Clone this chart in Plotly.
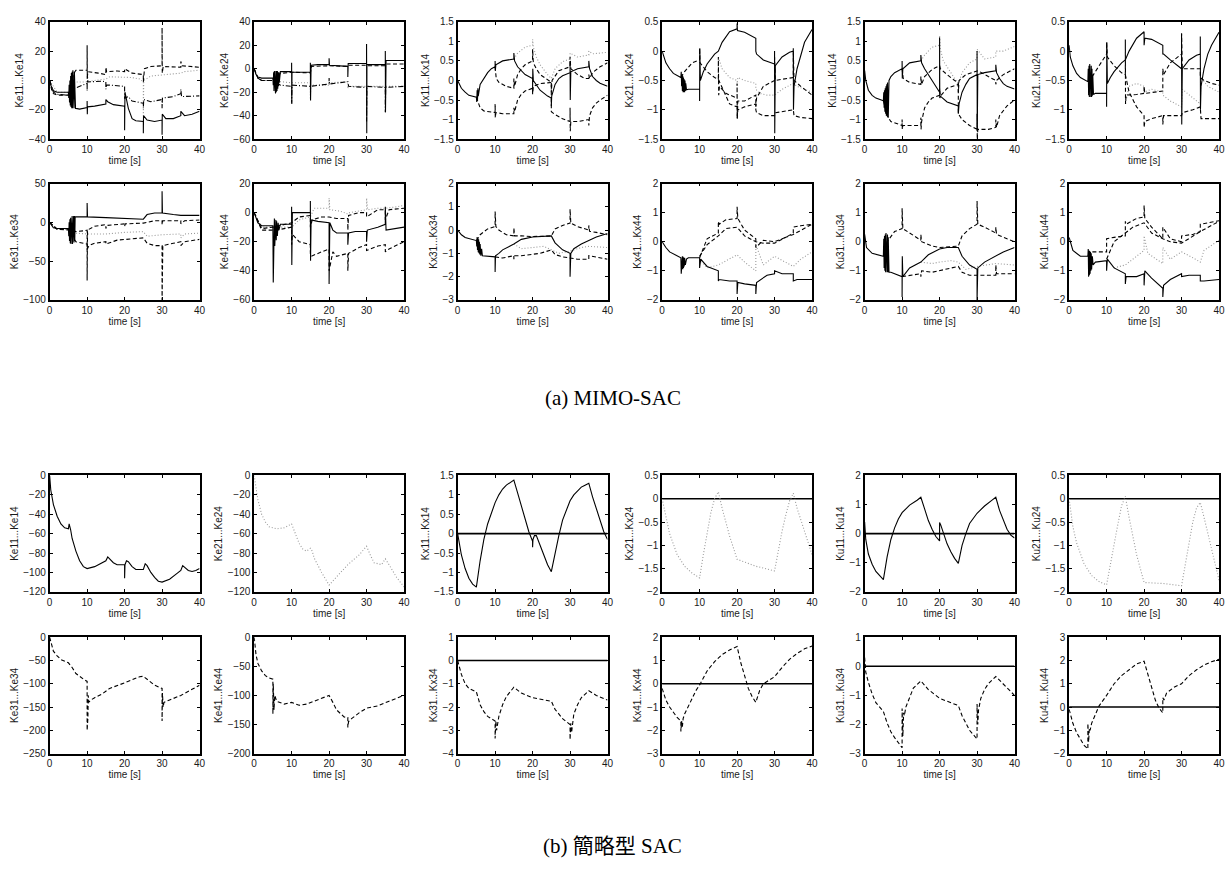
import plotly.graph_objects as go

# ---------------------------------------------------------------- data
# Each series is a list of (time [s], gain) points.

# (a) MIMO-SAC, first row
ke1_s = [(0,0),(0.4,-4),(1,-7),(2,-8),(5,-8),(5.1,-12),(5.2,-3),(5.3,-15),(5.4,0),(5.5,-17),(5.6,3),(5.7,-18),(5.8,5),(5.9,-19),(6.0,6),(6.1,-19),(6.2,7),(6.3,-19),(6.4,7),(6.5,-19),(6.6,6),(6.7,-19),(6.8,4),(6.9,-19),(7,-19),(8,-19.5),(10,-18.5),(10,-14),(10.05,-23),(10.1,-18),(12,-17.5),(15,-16),(15,-13),(15.5,-14.5),(17,-16.5),(20,-17.5),(20,-34),(20.1,-8),(21,-19),(22,-26),(23,-27.5),(25,-28),(25,-36),(25.05,-24),(26,-27),(28,-28),(30,-27),(30,-37),(30.05,-23),(31,-26),(33,-26),(35,-24),(35,-21),(36,-24),(38,-23),(40,-21)]
ke1_d = [(0,0),(0.5,-6),(1,-9),(2,-10),(5,-10),(5.5,-5),(6,0),(6.5,5),(7,7),(10,7),(10,24),(10.05,2),(10.2,6),(13,5),(15,4),(15,9),(15.2,6),(18,6.5),(20,6),(20,8),(22,5),(25,4),(25,-1),(25.3,8),(27,9.5),(30,10),(30,36),(30.05,5),(30.3,9.5),(35,9),(35,13),(35.3,10),(40,9)]
ke1_c = [(0,0),(1,-8),(2,-9.5),(5,-10),(5.5,-8),(6,-6),(7,-5),(9,-3),(10,-2),(10,-7),(10.05,4),(10.2,-1),(14,-0.5),(15,-1),(15,-6),(15.2,-3),(20,-4),(20,-12),(21,-11),(22,-14),(25,-15.5),(25,-19),(25.1,-13),(27,-14.5),(30,-13),(30,-19),(30.1,-12),(33,-11),(35,-9),(35,-6),(35.2,-11),(40,-10.5)]
ke1_o = [(0,0),(2,-8),(5,-8),(6,-3),(7,-1),(10,-1),(12,0),(15,1),(16,2.5),(20,2.5),(22,2),(24,1),(25,-1),(25,-24),(25.1,0),(27,3),(30,4),(33,4.5),(35,5),(36,6),(40,7)]

ke2_s = [(0,0),(0.5,-5),(1,-7),(2,-8),(5,-8),(5.1,-14),(5.2,-3),(5.3,-19),(5.4,-2),(5.5,-21),(5.6,-2),(5.7,-21),(5.8,-2),(5.9,-20),(6.0,-2),(6.1,-19),(6.2,-2),(6.3,-17),(6.4,-3),(6.5,-15),(6.6,-3),(6.7,-12),(6.8,-3),(7,-2.5),(10,-2.5),(10,5),(10.05,-30),(10.1,-3),(15,-3),(15,5),(15.05,-27),(15.2,3),(17,3.5),(20,3.5),(20,9),(20.1,3),(25,2),(25,-7),(25.1,4.5),(30,4.5),(30,21),(30.05,-55),(30.1,3.5),(35,3.5),(35,15),(35.05,-37),(35.2,7),(40,7)]
ke2_d = [(0,0),(1,-8),(2,-10),(5,-10),(6,-6),(7,-4),(10,-3),(15,-3.5),(15.3,2),(20,2.5),(25,2),(25.3,3),(30,3),(30.3,2.5),(35,2.5),(35.3,4),(40,4)]
ke2_o = [(0,0),(1,-8),(2,-10),(5,-10),(7,-11),(10,-12),(15,-12),(15,-26),(15.1,-14),(20,-14),(20,-12),(25,-11),(25,-17),(25.1,-15),(30,-15),(35,-15),(35,-20),(35.1,-15),(40,-15)]
ke2_c = [(0,0),(1,-8),(2,-10),(5,-10),(6,-12),(7,-14),(10,-15),(10,-29),(10.1,-14),(15,-15),(20,-13),(20,-8),(20.1,-13),(25,-11),(25.2,-15),(30,-16),(30,-45),(30.1,-15),(35,-16),(35,-37),(35.1,-16),(40,-15)]

kx1_s = [(0,0),(1,-0.2),(2,-0.3),(3,-0.38),(5,-0.43),(5.1,-0.55),(5.2,-0.25),(5.3,-0.5),(5.4,-0.2),(5.5,-0.4),(6,-0.1),(7,0.05),(8,0.2),(9,0.3),(10,0.35),(10,0.5),(10.05,0.25),(10.2,0.4),(12,0.5),(15,0.55),(15,0.7),(15.2,0.5),(16,0.35),(17,0.25),(18,0.15),(20,0.05),(20,-0.3),(20.05,0.3),(20.2,0.0),(22,-0.25),(24,-0.4),(25,-0.45),(25,-0.65),(25.1,-0.4),(26,-0.1),(27,0.05),(28,0.12),(30,0.2),(30,0.5),(30.05,-0.5),(30.2,0.22),(32,0.3),(35,0.35),(35,0.5),(35.2,0.3),(36,0.1),(37,0.0),(38,-0.07),(40,-0.15)]
kx1_d = [(5,-0.43),(5.5,-0.6),(6,-0.7),(7,-0.78),(10,-0.82),(10,-0.6),(10.05,-0.95),(10.2,-0.82),(12,-0.85),(15,-0.85),(15,-0.7),(15.2,-0.8),(16,-0.5),(17,-0.35),(18,-0.27),(20,-0.2),(20,-0.35),(20.2,-0.15),(22,-0.08),(25,-0.05),(25,-0.8),(26,-0.87),(28,-0.98),(30,-1.05),(30,-0.7),(30.05,-1.3),(30.2,-1.05),(32,-1.05),(35,-1.0),(35,-1.15),(35.2,-0.9),(36,-0.7),(37,-0.58),(38,-0.5),(40,-0.38)]
kx1_c = [(10,0.35),(10.3,0.05),(11,-0.05),(13,-0.15),(15,-0.2),(15,0.05),(15.2,-0.15),(16,0.15),(17,0.3),(18,0.4),(20,0.5),(20,0.8),(20.2,0.45),(21,0.3),(22,0.15),(24,0.02),(25,-0.05),(25,-0.3),(25.2,0.0),(27,0.25),(30,0.35),(30,0.6),(30.2,0.3),(32,0.15),(34,0.05),(35,0.05),(35,0.15),(35.2,0.05),(36,0.2),(38,0.35),(40,0.45)]
kx1_o = [(15,0.55),(16,0.7),(18,0.85),(20,0.9),(20,1.05),(20.2,0.85),(21,0.6),(22,0.4),(24,0.15),(25,0.05),(26,0.3),(28,0.48),(30,0.55),(30,0.7),(32,0.6),(35,0.65),(35,0.75),(36,0.68),(40,0.72)]

kx2_s = [(0,0),(1,-0.2),(2,-0.3),(3,-0.38),(5,-0.45),(5.1,-0.35),(5.2,-0.6),(5.3,-0.4),(5.4,-0.68),(5.5,-0.42),(5.6,-0.7),(5.7,-0.45),(5.8,-0.7),(5.9,-0.48),(6.0,-0.7),(6.1,-0.5),(6.2,-0.68),(6.3,-0.55),(6.5,-0.66),(7,-0.65),(10,-0.65),(10,-0.85),(10.05,0.05),(10.2,-0.5),(11,-0.35),(12,-0.22),(14,-0.05),(15,0.0),(16,0.15),(17,0.25),(18,0.33),(20,0.38),(20,0.47),(20.1,0.35),(22,0.32),(25,0.22),(25,0.0),(25.2,-0.05),(27,-0.15),(30,-0.22),(30,0.0),(30.05,-1.4),(30.2,-0.25),(32,-0.1),(34,-0.02),(35,0.0),(35,0.05),(35.05,-1.0),(35.2,-0.6),(36,-0.3),(37,-0.05),(38,0.15),(40,0.37)]
kx2_d = [(5,-0.45),(6,-0.35),(8,-0.2),(10,-0.15),(10,0.05),(10.1,-0.2),(12,-0.35),(14,-0.45),(15,-0.48),(15,-0.1),(15.1,-0.75),(15.3,-0.6),(17,-0.72),(20,-0.8),(20,-0.55),(20.05,-1.15),(20.2,-0.85),(22,-0.85),(25,-0.75),(25,-0.95),(25.2,-0.8),(27,-0.6),(30,-0.5),(30,-0.1),(30.2,-0.5),(32,-0.48),(35,-0.45),(35,0.0),(35.2,-0.5),(37,-0.6),(40,-0.75)]
kx2_c = [(15,-0.48),(17,-0.75),(18,-0.9),(20,-0.95),(20,-0.85),(20.05,-1.15),(20.2,-1.0),(22,-0.95),(25,-0.9),(25,-1.0),(25.2,-1.05),(27,-1.1),(30,-1.1),(30.2,-1.05),(33,-1.02),(35,-1.0),(35.2,-1.1),(37,-1.13),(40,-1.15)]
kx2_o = [(15,-0.1),(16,-0.3),(18,-0.45),(20,-0.5),(20,-0.6),(20.2,-0.45),(22,-0.5),(25,-0.55),(25,-0.65),(26,-0.72),(28,-0.75),(30,-0.75),(32,-0.65),(35,-0.55),(36,-0.6),(38,-0.65),(40,-0.7)]

ku1_s = [(0,0.25),(0.3,0.0),(1,-0.25),(2,-0.38),(3,-0.45),(5,-0.52),(5.1,-0.3),(5.2,-0.7),(5.3,-0.25),(5.4,-0.8),(5.5,-0.2),(5.6,-0.85),(5.7,-0.15),(5.8,-0.9),(5.9,-0.1),(6.0,-0.9),(6.1,-0.05),(6.3,-0.95),(6.5,0.0),(7,0.1),(8,0.2),(10,0.3),(10,0.5),(10.05,0.05),(10.2,0.3),(12,0.45),(15,0.5),(15,0.65),(15.2,0.45),(16,0.3),(17,0.15),(18,0.0),(20,-0.3),(20,1.1),(20.05,-0.45),(20.2,-0.4),(22,-0.55),(25,-0.65),(25,-0.85),(25.2,-0.6),(26,-0.3),(27,-0.1),(28,0.05),(30,0.15),(30,0.75),(30.05,-1.3),(30.2,0.15),(32,0.2),(35,0.25),(35,0.4),(35.2,0.2),(36,0.05),(37,-0.08),(38,-0.15),(40,-0.22)]
ku1_d = [(5,-0.52),(5.5,-0.75),(6,-0.9),(7,-1.05),(10,-1.15),(10,-1.0),(10.05,-1.25),(10.2,-1.15),(12,-1.15),(15,-1.15),(15,-0.95),(15.05,-1.25),(15.2,-1.05),(16,-0.7),(17,-0.55),(18,-0.45),(20,-0.38),(20,-0.2),(20.2,-0.4),(22,-0.2),(25,-0.1),(25,-0.85),(26,-1.0),(28,-1.15),(30,-1.25),(30,-0.85),(30.05,-1.5),(30.2,-1.25),(33,-1.25),(35,-1.2),(35,-1.0),(35.2,-1.2),(36,-0.9),(38,-0.65),(40,-0.5)]
ku1_c = [(10,0.3),(10.3,0.05),(12,-0.05),(15,-0.1),(15,0.1),(15.2,-0.1),(16,0.1),(18,0.28),(20,0.38),(20.2,0.3),(22,0.15),(24,0.0),(25,-0.05),(25,-0.3),(25.2,0.0),(27,0.15),(30,0.25),(30.2,0.25),(33,0.1),(35,0.0),(35,-0.1),(35.2,0.0),(37,0.15),(40,0.3)]
ku1_o = [(15,0.5),(16,0.65),(18,0.85),(20,0.9),(20,1.15),(20.2,0.8),(21,0.5),(23,0.2),(25,-0.1),(26,0.2),(28,0.45),(30,0.55),(30,0.8),(32,0.55),(35,0.6),(35,0.75),(37,0.75),(40,0.87)]

ku2_s = [(0,0.1),(0.3,-0.1),(1,-0.25),(2,-0.38),(3,-0.45),(5,-0.52),(5.1,-0.3),(5.2,-0.75),(5.3,-0.25),(5.4,-0.78),(5.5,-0.22),(5.6,-0.78),(5.7,-0.22),(5.8,-0.78),(5.9,-0.25),(6.0,-0.78),(6.1,-0.3),(6.2,-0.76),(6.3,-0.4),(6.5,-0.74),(7,-0.72),(10,-0.72),(10,-0.95),(10.05,0.15),(10.2,-0.55),(11,-0.45),(12,-0.35),(14,-0.2),(15,-0.15),(16,0.0),(17,0.12),(18,0.22),(20,0.33),(20,0.1),(20.2,0.22),(22,0.2),(25,0.1),(25,-0.05),(25.2,-0.05),(27,-0.15),(30,-0.3),(30,0.3),(30.05,-1.25),(30.2,-0.3),(32,-0.15),(34,-0.07),(35,-0.05),(35,0.25),(35.05,-1.0),(35.2,-0.6),(36,-0.3),(37,-0.05),(38,0.1),(40,0.32)]
ku2_d = [(5,-0.52),(6,-0.45),(8,-0.25),(10,-0.05),(10,0.15),(10.2,-0.1),(12,-0.25),(14,-0.37),(15,-0.4),(15,0.2),(15.05,-0.9),(15.2,-0.75),(18,-0.74),(20,-0.72),(20,-0.6),(20.2,-0.72),(25,-0.68),(25,-0.3),(25.2,-0.4),(27,-0.2),(30,-0.05),(30,0.3),(30.2,-0.3),(33,-0.3),(35,-0.3),(35,-0.45),(36,-0.5),(38,-0.55),(40,-0.58)]
ku2_c = [(15,-0.4),(16,-0.7),(18,-0.95),(20,-1.1),(20,-1.3),(20.2,-1.2),(22,-1.15),(25,-1.1),(25,-1.25),(25.2,-1.1),(30,-1.1),(30.2,-1.05),(33,-1.0),(35,-0.95),(35.2,-1.15),(40,-1.15)]
ku2_o = [(15,-0.9),(16,-0.6),(18,-0.55),(20,-0.6),(20,-0.7),(22,-0.65),(25,-0.7),(25,-0.75),(27,-0.85),(30,-0.95),(30.2,-0.65),(33,-0.8),(35,-0.9),(35.2,-0.45),(37,-0.6),(40,-0.7)]

# (a) MIMO-SAC, second row
ke3_s = [(0,0),(1,-7),(2,-8),(5,-8),(5.1,-18),(5.2,0),(5.3,-24),(5.4,4),(5.5,-27),(5.6,6),(5.7,-28),(5.8,7),(5.9,-28),(6.0,8),(6.1,-28),(6.2,8),(6.3,-27),(6.4,8),(6.5,-26),(6.6,8),(6.7,-24),(6.8,7),(7,7),(10,7),(10,25),(10.1,7),(15,6),(20,5),(25,4),(26,10),(28,12),(30,12),(30,40),(30.1,12),(33,10),(35,9),(40,9)]
ke3_d = [(0,0),(2,-9),(5,-9),(7,-12),(9,-11),(10,-10),(10,-75),(10.1,-10),(12,-5),(15,-3),(15,-8),(15.2,-4),(20,-2),(20,-5),(20.2,-2),(25,-1),(26,0),(28,2),(30,2),(30,-3),(30.2,2),(33,2),(35,2),(35,-2),(36,2),(40,3)]
ke3_o = [(0,0),(2,-9),(5,-9),(7,-14),(10,-15),(15,-15),(20,-13),(25,-12),(26,-18),(28,-17),(30,-16),(35,-15),(35,-20),(36,-15),(40,-14)]
ke3_c = [(0,0),(2,-9),(5,-10),(7,-25),(10,-28),(10,-35),(10.5,-30),(12,-27),(15,-25),(15,-28),(18,-23),(20,-22),(25,-20),(26,-27),(28,-30),(30,-30),(30,-100),(30.2,-30),(33,-27),(35,-25),(35,-30),(36,-25),(40,-22)]

ke4_s = [(0,0),(1,-7),(2,-9),(5,-9),(5.1,-48),(5.2,-5),(5.3,-25),(5.4,-4),(5.5,-23),(5.6,-5),(5.7,-21),(5.8,-5),(5.9,-19),(6.0,-6),(6.2,-16),(6.4,-7),(6.6,-12),(7,-8),(10,-8),(10,4),(10.05,-36),(10.2,0),(12,0),(15,0),(15,8),(15.05,-33),(15.2,-5),(17,-6),(20,-7),(20,-49),(20.2,-7),(21,-12),(22,-14),(25,-14),(25,-22),(25.2,-14),(27,-13),(30,-13),(30,-20),(30.2,-12),(33,-10),(35,-8),(35,4),(35.2,-12),(40,-10)]
ke4_d = [(0,0),(2,-12),(5,-12),(6,-12),(10,-10),(10,-22),(10.2,-15),(12,-20),(15,-22),(15,-28),(15.2,-30),(18,-27),(20,-25),(20,-40),(21,-27),(22,-30),(25,-28),(25,-40),(25.2,-28),(28,-24),(30,-22),(30,-26),(33,-23),(35,-22),(35,-27),(36,-25),(40,-20)]
ke4_c = [(0,0),(2,-11),(5,-10),(7,-9),(10,-7),(12,-3),(15,-2),(15,-10),(15.5,-5),(18,-3),(20,-3),(22,-4),(25,-4),(25,-12),(25.2,-2),(28,0),(30,0),(30,-3),(33,2),(35,2),(35,-5),(36,2),(40,3)]
ke4_o = [(0,0),(2,-10),(5,-10),(10,-10),(12,-5),(15,-3),(16,3),(20,3),(20,10),(20.2,2),(23,1),(25,-1),(25.5,0),(28,1),(30,2),(30,10),(30.3,2),(33,3),(35,3),(38,4),(40,5)]

kx3_s = [(0,0),(1,-0.2),(2,-0.32),(4,-0.42),(5,-0.45),(5.1,-0.7),(5.2,-0.3),(5.3,-0.85),(5.4,-0.35),(5.5,-0.95),(5.6,-0.4),(5.7,-1.0),(5.8,-0.5),(5.9,-1.05),(6.0,-0.6),(6.2,-1.1),(6.4,-0.8),(6.6,-1.1),(8,-1.12),(10,-1.15),(10,-1.8),(10.1,-1.1),(11,-1.0),(12,-0.85),(15,-0.6),(17,-0.4),(20,-0.3),(25,-0.25),(26,-0.55),(28,-0.85),(30,-1.0),(30,-2.0),(30.2,-1.0),(31,-0.8),(33,-0.6),(35,-0.45),(37,-0.3),(40,-0.15)]
kx3_d = [(5,-0.45),(6,-0.2),(8,0.05),(10,0.15),(10,0.8),(10.2,0.15),(11,0.0),(13,-0.2),(15,-0.25),(15,0.1),(15.2,-0.25),(17,-0.25),(20,-0.28),(25,-0.25),(26,0.05),(28,0.2),(30,0.3),(30,0.9),(30.2,0.3),(32,0.15),(35,0.0),(35,0.2),(35.2,-0.05),(37,-0.1),(40,-0.2)]
kx3_c = [(10,-1.15),(12,-1.2),(15,-1.1),(15,-1.25),(15.2,-1.1),(17,-1.1),(20,-1.05),(22,-1.0),(25,-0.85),(26,-1.05),(28,-1.15),(30,-1.2),(32,-1.25),(35,-1.25),(35,-1.1),(40,-1.25)]
kx3_o = [(15,-0.6),(17,-0.8),(20,-0.75),(23,-0.7),(25,-0.85),(27,-1.0),(30,-0.9),(33,-0.75),(35,-0.7),(40,-0.75)]

kx4_s = [(0,0),(1,-0.2),(2,-0.35),(4,-0.5),(5,-0.55),(5.1,-1.1),(5.2,-0.5),(5.3,-1.0),(5.4,-0.5),(5.5,-0.95),(5.6,-0.52),(5.7,-0.9),(5.8,-0.55),(5.9,-0.85),(6.0,-0.55),(6.2,-0.8),(6.5,-0.6),(7,-0.55),(10,-0.55),(10,-0.9),(10.3,-0.6),(12,-0.85),(15,-1.0),(15,-1.35),(15.2,-1.3),(18,-1.35),(20,-1.35),(20,-1.8),(20.2,-1.4),(22,-1.45),(25,-1.5),(25,-1.8),(25.2,-1.4),(28,-1.15),(30,-1.1),(30,-1.0),(32,-1.1),(35,-1.1),(35,-1.35),(36,-1.3),(40,-1.3)]
kx4_d = [(10,-0.55),(12,0.1),(15,0.3),(15,0.7),(15.2,0.6),(17,0.75),(20,0.8),(20,1.2),(20.2,0.8),(22,0.4),(25,0.1),(25,-0.2),(27,0.05),(30,0.0),(33,0.15),(35,0.3),(35,0.5),(37,0.55),(40,0.6)]
kx4_c = [(10,-0.5),(12,-0.1),(15,0.2),(17,0.45),(20,0.5),(22,0.2),(25,0.0),(27,-0.05),(30,-0.05),(33,0.15),(35,0.25),(40,0.6)]
kx4_o = [(10,-0.6),(12,-0.9),(15,-0.8),(18,-0.6),(20,-0.45),(22,-0.7),(25,-1.0),(25,-0.1),(27,-0.8),(30,-0.5),(33,-0.7),(35,-0.85),(37,-0.6),(40,-0.35)]

ku3_s = [(0,0.25),(0.5,-0.2),(2,-0.4),(5,-0.5),(5.1,0.1),(5.2,-0.9),(5.3,0.2),(5.4,-1.0),(5.5,0.25),(5.6,-1.05),(5.7,0.3),(5.8,-1.05),(5.9,0.3),(6.0,-1.05),(6.1,0.25),(6.2,-1.05),(6.3,0.15),(6.5,-1.05),(7,-1.05),(10,-1.2),(10,-1.9),(10.05,-0.5),(10.2,-1.2),(12,-0.9),(15,-0.7),(17,-0.45),(20,-0.25),(22,-0.2),(25,-0.2),(26,-0.5),(28,-0.8),(30,-0.95),(30,-2.0),(30.2,-0.9),(32,-0.7),(35,-0.5),(37,-0.35),(40,-0.2)]
ku3_d = [(5,-0.5),(6,0.0),(8,0.35),(10,0.45),(10,1.15),(10.2,0.45),(12,0.3),(15,0.05),(15,0.25),(15.2,0.0),(18,-0.15),(20,-0.2),(25,-0.15),(26,0.2),(28,0.45),(30,0.6),(30,1.4),(30.2,0.6),(32,0.5),(35,0.3),(35,0.5),(35.2,0.25),(38,0.1),(40,0.0)]
ku3_c = [(10,-1.2),(12,-1.15),(15,-1.1),(15,-1.2),(15.2,-1.0),(18,-1.05),(20,-1.0),(22,-0.95),(25,-0.85),(26,-1.05),(28,-1.15),(30,-1.15),(35,-1.15),(35,-0.8),(35.2,-1.1),(40,-1.1)]
ku3_o = [(15,-0.7),(18,-0.75),(20,-0.7),(23,-0.65),(25,-0.7),(27,-0.95),(30,-0.85),(33,-0.8),(35,-0.75),(40,-0.8)]

ku4_s = [(0,0.15),(1,-0.3),(3,-0.5),(5,-0.5),(5.1,-0.25),(5.2,-1.2),(5.3,-0.3),(5.4,-1.15),(5.5,-0.32),(5.6,-1.1),(5.7,-0.35),(5.8,-1.0),(5.9,-0.4),(6.0,-0.95),(6.2,-0.5),(6.4,-0.8),(7,-0.7),(10,-0.65),(10,-1.0),(10.2,-0.6),(12,-0.9),(15,-1.1),(15,-1.45),(15.2,-1.2),(18,-1.2),(20,-1.1),(20,-1.5),(20.2,-1.0),(22,-1.25),(25,-1.6),(25,-1.9),(25.2,-1.5),(27,-1.3),(30,-1.1),(30,-1.2),(32,-1.15),(35,-1.15),(35,-1.35),(36,-1.35),(40,-1.3)]
ku4_d = [(5,-0.5),(6,-0.35),(10,-0.35),(10,0.1),(12,0.15),(15,0.2),(15,0.7),(15.2,0.6),(18,0.8),(20,0.85),(20,1.25),(20.2,0.8),(22,0.5),(25,0.1),(25,0.5),(27,0.1),(30,0.0),(30,0.2),(33,0.25),(35,0.35),(35,0.6),(37,0.65),(40,0.72)]
ku4_c = [(10,-0.6),(12,0.0),(15,0.3),(17,0.5),(20,0.65),(22,0.3),(25,0.1),(27,0.0),(30,-0.05),(33,0.2),(35,0.35),(40,0.7)]
ku4_o = [(12,-0.9),(15,-0.8),(18,-0.5),(20,-0.3),(20,0.2),(21,-0.4),(25,-0.75),(25,-0.2),(27,-0.6),(30,-0.35),(33,-0.55),(35,-0.7),(36,-0.3),(40,0.05)]

# (b) simplified SAC, first row
sk_ke1 = [(0,0),(0.3,-15),(1,-30),(2,-42),(3,-50),(4,-54),(5,-55),(5.2,-50),(5.6,-56),(6,-65),(7,-78),(8,-88),(9,-94),(10,-96),(12,-94),(14,-90),(15,-88),(15.5,-84),(16,-86),(17,-90),(18,-92),(20,-92),(20,-106),(20.1,-92),(20.5,-88),(21,-89),(22,-94),(23,-97),(25,-97),(25.5,-91),(26,-93),(27,-100),(28,-105),(29,-109),(30,-110),(32,-107),(34,-101),(35,-98),(35.5,-93),(36,-95),(37,-98),(38,-99),(39,-98),(40,-96)]
sk_ke2 = [(0,0),(1,-25),(2,-40),(3,-48),(4,-53),(6,-55),(8,-54),(10,-50),(11,-60),(12,-70),(13,-76),(14,-78),(15,-75),(15.5,-78),(16,-85),(18,-100),(20,-113),(22,-105),(25,-92),(28,-82),(30,-73),(31,-82),(32,-90),(34,-92),(35,-86),(36,-92),(38,-105),(40,-115)]
sk_kx1 = [(0,0),(1,-0.55),(2,-0.9),(3,-1.15),(4,-1.3),(5,-1.38),(6,-0.7),(7,-0.15),(8,0.25),(9,0.55),(10,0.8),(11,1.0),(12,1.15),(13,1.25),(14,1.32),(15,1.38),(16,1.05),(17,0.7),(18,0.35),(19,0.05),(20,-0.2),(20,-0.35),(20.1,-0.15),(20.5,-0.05),(21,-0.05),(22,-0.3),(23,-0.55),(24,-0.8),(25,-0.98),(26,-0.5),(27,-0.05),(28,0.35),(29,0.62),(30,0.85),(31,1.0),(32,1.1),(33,1.2),(34,1.25),(35,1.3),(36,0.95),(37,0.65),(38,0.35),(39,0.05),(40,-0.15)]
sk_kx2 = [(0,0),(1,-0.4),(2,-0.75),(4,-1.2),(6,-1.45),(8,-1.6),(10,-1.7),(11,-1.2),(12,-0.7),(13,-0.3),(14,0.0),(15,0.15),(16,-0.2),(18,-0.8),(20,-1.3),(25,-1.45),(30,-1.55),(31,-1.1),(32,-0.7),(33,-0.35),(34,-0.05),(35,0.12),(36,-0.2),(38,-0.7),(40,-1.2)]
sk_ku1 = [(0,0.4),(0.3,-0.2),(1,-0.7),(2,-1.05),(3,-1.3),(4,-1.45),(5,-1.58),(6,-0.8),(7,-0.2),(8,0.2),(9,0.5),(10,0.72),(12,0.98),(14,1.15),(15,1.25),(16,0.85),(17,0.45),(18,0.15),(19,-0.1),(20,-0.25),(20,0.38),(20.3,0.3),(21,0.0),(22,-0.35),(23,-0.62),(24,-0.85),(25,-1.02),(26,-0.4),(27,0.0),(28,0.35),(30,0.7),(32,0.95),(34,1.15),(35,1.25),(36,0.8),(37,0.45),(38,0.15),(39,-0.05),(40,-0.15)]
sk_ku2 = [(0,0.0),(1,-0.6),(2,-0.95),(4,-1.4),(6,-1.65),(8,-1.78),(10,-1.85),(11,-1.4),(12,-0.95),(13,-0.55),(14,-0.15),(15,0.05),(16,-0.4),(18,-1.2),(20,-1.8),(25,-1.82),(30,-1.87),(31,-1.4),(32,-0.9),(33,-0.5),(34,-0.2),(35,-0.08),(36,-0.4),(38,-1.05),(40,-1.75)]

# (b) simplified SAC, second row
sk_ke3 = [(0,0),(0.5,-15),(1,-30),(2,-40),(3,-48),(5,-55),(6,-65),(7,-78),(8,-85),(9,-90),(10,-95),(10,-200),(10.1,-110),(10.2,-175),(10.3,-125),(10.4,-140),(11,-135),(12,-130),(14,-122),(16,-110),(20,-98),(24,-85),(25,-84),(26,-90),(28,-103),(30,-110),(30,-180),(30.1,-120),(30.3,-150),(30.5,-140),(32,-135),(35,-125),(38,-112),(40,-103)]
sk_ke4 = [(0,0),(0.5,-30),(1,-45),(2,-58),(3,-66),(4,-70),(5,-72),(5,-132),(5.1,-80),(5.3,-125),(5.5,-100),(6,-110),(8,-115),(10,-112),(12,-117),(14,-115),(16,-110),(18,-105),(20,-100),(21,-112),(22,-125),(24,-137),(25,-138),(25,-155),(25.2,-145),(26,-140),(28,-130),(30,-122),(33,-118),(36,-110),(40,-100)]
sk_kx3 = [(0,0),(1,-0.6),(2,-1.0),(3,-1.2),(5,-1.35),(6,-1.9),(7,-2.2),(8,-2.4),(10,-2.6),(10,-3.35),(10.2,-2.6),(10.4,-3.0),(10.6,-2.7),(11,-2.4),(12,-1.9),(13,-1.55),(15,-1.15),(17,-1.4),(20,-1.6),(25,-1.75),(26,-2.1),(28,-2.5),(30,-2.75),(30,-3.4),(30.2,-2.7),(30.4,-3.1),(30.6,-2.7),(31,-2.3),(32,-1.9),(33,-1.6),(35,-1.3),(37,-1.5),(40,-1.7)]
sk_kx4 = [(0,-0.2),(1,-0.7),(2,-1.0),(3,-1.25),(4,-1.45),(5,-1.6),(5,-2.05),(5.2,-1.6),(5.4,-1.85),(5.6,-1.5),(6,-1.3),(7,-0.95),(8,-0.6),(9,-0.3),(10,-0.05),(12,0.55),(14,0.95),(16,1.25),(18,1.45),(20,1.6),(21,0.9),(22,0.3),(23,-0.2),(24,-0.55),(25,-0.8),(26,-0.3),(27,0.0),(28,0.1),(30,0.3),(32,0.7),(34,1.05),(36,1.3),(38,1.5),(40,1.62)]
sk_ku3 = [(0,0.3),(0.3,-0.2),(1,-0.55),(2,-0.95),(3,-1.25),(5,-1.55),(6,-1.95),(7,-2.25),(8,-2.45),(10,-2.8),(10,-1.45),(10.2,-2.4),(10.4,-1.6),(10.6,-1.7),(11,-1.4),(12,-1.05),(13,-0.75),(15,-0.5),(17,-0.8),(20,-1.1),(25,-1.35),(26,-1.7),(28,-2.2),(30,-2.5),(30,-1.3),(30.2,-2.0),(30.4,-1.5),(30.6,-1.4),(31,-1.1),(32,-0.8),(33,-0.6),(35,-0.35),(37,-0.6),(40,-1.0)]
sk_ku4 = [(0,-0.1),(1,-0.7),(2,-1.1),(3,-1.4),(4,-1.65),(5,-1.8),(5,-0.7),(5.2,-1.5),(5.4,-0.9),(5.6,-1.0),(6,-0.7),(7,-0.3),(8,0.05),(10,0.5),(12,1.0),(14,1.35),(16,1.6),(18,1.85),(20,1.97),(21,1.4),(22,0.8),(23,0.3),(24,-0.05),(25,-0.25),(25,0.4),(25.3,0.3),(26,0.6),(28,0.85),(30,1.0),(32,1.35),(34,1.6),(36,1.8),(38,1.95),(40,2.05)]
zero_gain = [(0,0),(40,0)]

X_TICKS = [0, 10, 20, 30, 40]

# (y label, y range, y tick step, [(series, style), ...]) per panel, row by row
PANELS = [
    ("Ke11...Ke14", (-40, 40), 20, [(ke1_o,"o"),(ke1_c,"c"),(ke1_d,"d"),(ke1_s,"s")]),
    ("Ke21...Ke24", (-60, 40), 20, [(ke2_o,"o"),(ke2_c,"c"),(ke2_d,"d"),(ke2_s,"s")]),
    ("Kx11...Kx14", (-1.5, 1.5), 0.5, [(kx1_o,"o"),(kx1_c,"d"),(kx1_d,"d"),(kx1_s,"s")]),
    ("Kx21...Kx24", (-1.5, 0.5), 0.5, [(kx2_o,"o"),(kx2_c,"d"),(kx2_d,"d"),(kx2_s,"s")]),
    ("Ku11...Ku14", (-1.5, 1.5), 0.5, [(ku1_o,"o"),(ku1_c,"d"),(ku1_d,"d"),(ku1_s,"s")]),
    ("Ku21...Ku24", (-1.5, 0.5), 0.5, [(ku2_o,"o"),(ku2_c,"d"),(ku2_d,"d"),(ku2_s,"s")]),
    ("Ke31...Ke34", (-100, 50), 50, [(ke3_o,"o"),(ke3_c,"d"),(ke3_d,"d"),(ke3_s,"s")]),
    ("Ke41...Ke44", (-60, 20), 20, [(ke4_o,"o"),(ke4_c,"d"),(ke4_d,"d"),(ke4_s,"s")]),
    ("Kx31...Kx34", (-3, 2), 1, [(kx3_o,"o"),(kx3_c,"d"),(kx3_d,"d"),(kx3_s,"s")]),
    ("Kx41...Kx44", (-2, 2), 1, [(kx4_o,"o"),(kx4_c,"d"),(kx4_d,"d"),(kx4_s,"s")]),
    ("Ku31...Ku34", (-2, 2), 1, [(ku3_o,"o"),(ku3_c,"d"),(ku3_d,"d"),(ku3_s,"s")]),
    ("Ku41...Ku44", (-2, 2), 1, [(ku4_o,"o"),(ku4_c,"d"),(ku4_d,"d"),(ku4_s,"s")]),
    ("Ke11...Ke14", (-120, 0), 20, [(sk_ke1,"s")]),
    ("Ke21...Ke24", (-120, 0), 20, [(sk_ke2,"o")]),
    ("Kx11...Kx14", (-1.5, 1.5), 0.5, [(zero_gain,"z"),(sk_kx1,"s")]),
    ("Kx21...Kx24", (-2, 0.5), 0.5, [(zero_gain,"z"),(sk_kx2,"o")]),
    ("Ku11...Ku14", (-2, 2), 1, [(zero_gain,"z"),(sk_ku1,"s")]),
    ("Ku21...Ku24", (-2, 0.5), 0.5, [(zero_gain,"z"),(sk_ku2,"o")]),
    ("Ke31...Ke34", (-250, 0), 50, [(sk_ke3,"d")]),
    ("Ke41...Ke44", (-200, 0), 50, [(sk_ke4,"d")]),
    ("Kx31...Kx34", (-4, 1), 1, [(zero_gain,"z"),(sk_kx3,"d")]),
    ("Kx41...Kx44", (-3, 2), 1, [(zero_gain,"z"),(sk_kx4,"d")]),
    ("Ku31...Ku34", (-3, 1), 1, [(zero_gain,"z"),(sk_ku3,"d")]),
    ("Ku41...Ku44", (-2, 3), 1, [(zero_gain,"z"),(sk_ku4,"d")]),
]

CAPTIONS = ["(a) MIMO-SAC", "(b) 簡略型 SAC"]

# ---------------------------------------------------------------- layout
W, H = 1228, 873
COLS = [(47, 198), (253, 404), (458, 609), (664, 815), (868, 1019), (1074, 1225)]
ROWS = [(16, 135), (180, 298), (476, 594), (640, 758)]
CAPTION_Y = [397, 852]

STYLES = {
    "s": dict(color="black", width=1.1, dash="solid"),
    "d": dict(color="black", width=1.1, dash="4px,2.5px"),
    "c": dict(color="black", width=1.1, dash="5px,2px,1px,2px"),
    "o": dict(color="#9a9a9a", width=1.1, dash="1px,2px"),
    "z": dict(color="black", width=1.6, dash="solid"),
}

LABEL_FONT = dict(family="Liberation Sans, Arial, sans-serif", size=10, color="#1a1a1a")

fig = go.Figure()
layout = dict(
    width=W, height=H, margin=dict(l=0, r=0, t=0, b=0),
    paper_bgcolor="white", plot_bgcolor="white", showlegend=False,
    annotations=[],
)

for i, (ylabel, yrange, ystep, series) in enumerate(PANELS):
    r, c = divmod(i, 6)
    n = i + 1
    xs = "" if n == 1 else str(n)
    x0, x1 = COLS[c]
    y0, y1 = ROWS[r]
    for pts, style in series:
        fig.add_trace(go.Scatter(
            x=[p[0] for p in pts], y=[p[1] for p in pts], mode="lines",
            line=STYLES[style], xaxis="x" + xs, yaxis="y" + xs,
            hoverinfo="skip", showlegend=False,
        ))
    common = dict(
        showline=True, linecolor="black", linewidth=1.7, mirror="allticks",
        ticks="inside", ticklen=3, tickwidth=1, tickcolor="black",
        showgrid=False, zeroline=False, tickfont=LABEL_FONT,
    )
    layout["xaxis" + xs] = dict(
        common, domain=[x0 / W, x1 / W], anchor="y" + xs, range=[0, 40],
        tickvals=X_TICKS,
        title=dict(text="time [s]", standoff=2, font=LABEL_FONT),
    )
    layout["yaxis" + xs] = dict(
        common, domain=[1 - y1 / H, 1 - y0 / H], anchor="x" + xs,
        range=list(yrange), dtick=ystep, tick0=0,
        title=dict(text=ylabel, standoff=3, font=LABEL_FONT),
    )

for text, ypx in zip(CAPTIONS, CAPTION_Y):
    layout["annotations"].append(dict(
        text=text, x=0.5, y=1 - ypx / H, xref="paper", yref="paper",
        xanchor="center", yanchor="middle", showarrow=False,
        font=dict(family="Liberation Serif, Noto Sans CJK JP, serif", size=21, color="black"),
    ))

fig.update_layout(**layout)
fig.write_html("out.html")
